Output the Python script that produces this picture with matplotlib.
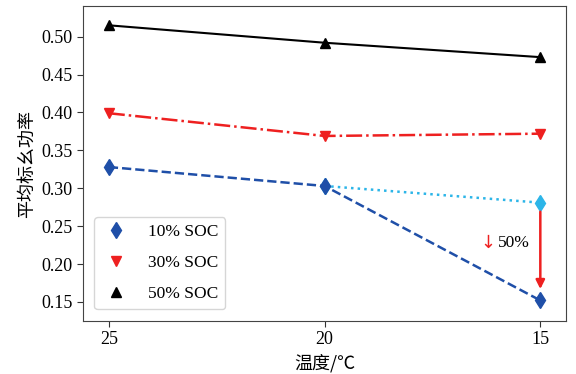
import numpy as np
import matplotlib.pyplot as plt

plt.rcParams['font.family'] = ['Liberation Serif', 'Noto Sans CJK SC', 'DejaVu Sans']
plt.rcParams['axes.unicode_minus'] = False

# Temperature points (deg C) and mean per-unit power
temps = [25, 20, 15]
soc10 = [0.328, 0.303, 0.152]
soc30 = [0.399, 0.369, 0.372]
soc50 = [0.515, 0.492, 0.473]
# 10% SOC trend continued from 20 C
soc10_trend_t = [20, 15]
soc10_trend = [0.303, 0.281]

blue = '#1f4fa8'
light_blue = '#2cb5e8'
red = '#ee2020'

fig = plt.figure(figsize=(5.76, 3.74), dpi=100)
ax = fig.add_axes([0.144, 0.142, 0.839, 0.841])

ax.plot(soc10_trend_t, soc10_trend, ':', color=light_blue, lw=1.8,
        marker='d', markersize=8)
ax.plot(temps, soc10, '--', color=blue, lw=1.8, marker='d', markersize=8,
        label='10% SOC')
ax.plot(temps, soc30, '-.', color=red, lw=1.8, marker='v', markersize=7.5,
        label='30% SOC')
ax.plot(temps, soc50, '-', color='black', lw=1.5, marker='^', markersize=7.5,
        label='50% SOC')

# drop at 15 C
ax.annotate('', xy=(15, 0.167), xytext=(15, 0.269),
            arrowprops=dict(arrowstyle='-|>', color=red, lw=1.8,
                            mutation_scale=13, shrinkA=0, shrinkB=0))
ax.text(16.22, 0.228, '↓', color=red, fontsize=13, ha='center', va='center',
        family='DejaVu Sans')
ax.text(15.98, 0.228, '50%', color='black', fontsize=12.5, ha='left', va='center')

ax.set_xlim(25.6, 14.4)
ax.set_ylim(0.125, 0.54)
ax.set_xticks(temps)
ax.set_yticks(np.arange(0.15, 0.51, 0.05))
ax.set_yticklabels([f'{v:.2f}' for v in np.arange(0.15, 0.51, 0.05)])
ax.tick_params(labelsize=13, color='#333333', direction='out', length=4)
for s in ax.spines.values():
    s.set_color('#444444')

ax.set_xlabel('温度/℃', fontsize=13, family=['Noto Sans CJK SC', 'DejaVu Sans'])
ax.set_ylabel('平均标幺功率', fontsize=13, family=['Noto Sans CJK SC', 'DejaVu Sans'])

leg = ax.legend(loc='lower left', fontsize=12.5, handlelength=1.7,
                handletextpad=1.0, borderpad=0.4, labelspacing=0.85,
                borderaxespad=0, edgecolor='#cccccc',
                bbox_to_anchor=(0.023, 0.037))
for h in leg.legend_handles:
    h.set_linestyle('None')

fig.savefig('out.png', dpi=100)
